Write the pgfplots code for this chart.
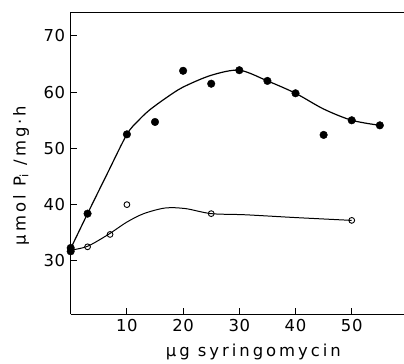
\documentclass[border=0pt]{standalone}
\usepackage{fontspec}
\setmainfont{DejaVu Sans}
\newfontfamily\tickfont[LetterSpace=4]{DejaVu Sans}
\newfontfamily\labfont[LetterSpace=18]{DejaVu Sans}
\usepackage{pgfplots}
\pgfplotsset{compat=1.18}
\begin{document}
\begin{tikzpicture}
\begin{axis}[
  scale only axis,
  width=333.3bp, height=302bp,
  xmin=0, xmax=59.3, ymin=20.5, ymax=74.2,
  axis x line=box, axis y line=left,
  y axis line style={-},
  every axis line/.style={line width=0.9pt},
  xtick pos=bottom, ytick pos=left,
  tick align=inside,
  major tick length=6bp,
  tick style={line width=0.9pt, black},
  xtick={10,20,30,40,50}, xticklabels={10,20,30,40,50},
  ytick={30,40,50,60,70}, yticklabels={30,40,50,60,70},
  ticklabel style={font=\fontsize{16.5}{19}\tickfont},
  xticklabel style={yshift=-1bp},
  yticklabel style={xshift=-2bp},
  xlabel={µg syringomycin},
  ylabel={µmol P\textsubscript{i} /mg·h},
  xlabel style={font=\fontsize{16.5}{19}\labfont, at={(axis description cs:0.548,-0.141)}, anchor=base},
  ylabel style={font=\fontsize{16.5}{19}\labfont, at={(axis description cs:-0.149,0.46)}, anchor=center},
  clip=false,
]
% fitted curve, filled symbols
\addplot[black, line width=1.2pt, smooth, no marks] coordinates {
(0,32.2) (3,38.4) (6.5,45.5) (10,52.5) (12,54.9) (14,56.8) (17,59.0) (20,60.9) (25,63.0) (30,63.9) (35,62.0) (40,59.8) (45,57.0) (50,55.0) (55,54.1)};
% fitted curve, open symbols
\addplot[black, line width=1.0pt, smooth, no marks] coordinates {
(0,31.9) (3,32.6) (6.7,34.7) (10,36.9) (13,38.4) (16.8,39.4) (20.4,39.3) (25,38.4) (31,38.2) (40,37.7) (50,37.2)};
% filled data
\addplot[only marks, mark=*, mark size=3.8bp, black] coordinates {
(0,32.3) (0,31.7) (3,38.4) (10,52.5) (15,54.7) (20,63.8) (25,61.5) (30,63.9) (35,62.0) (40,59.8) (45,52.4) (50,55.0) (55,54.1)};
% open data
\addplot[only marks, mark=o, mark size=2.9bp, black, line width=0.9pt, mark options={fill=white}] coordinates {
(3,32.5) (7,34.7) (10,40.0) (25,38.4) (50,37.2)};
\end{axis}
\pgfresetboundingbox
\path ([shift={(-70.7bp,-49.7bp)}]current axis.south west) rectangle ++(404bp,364bp);
\end{tikzpicture}
\end{document}
